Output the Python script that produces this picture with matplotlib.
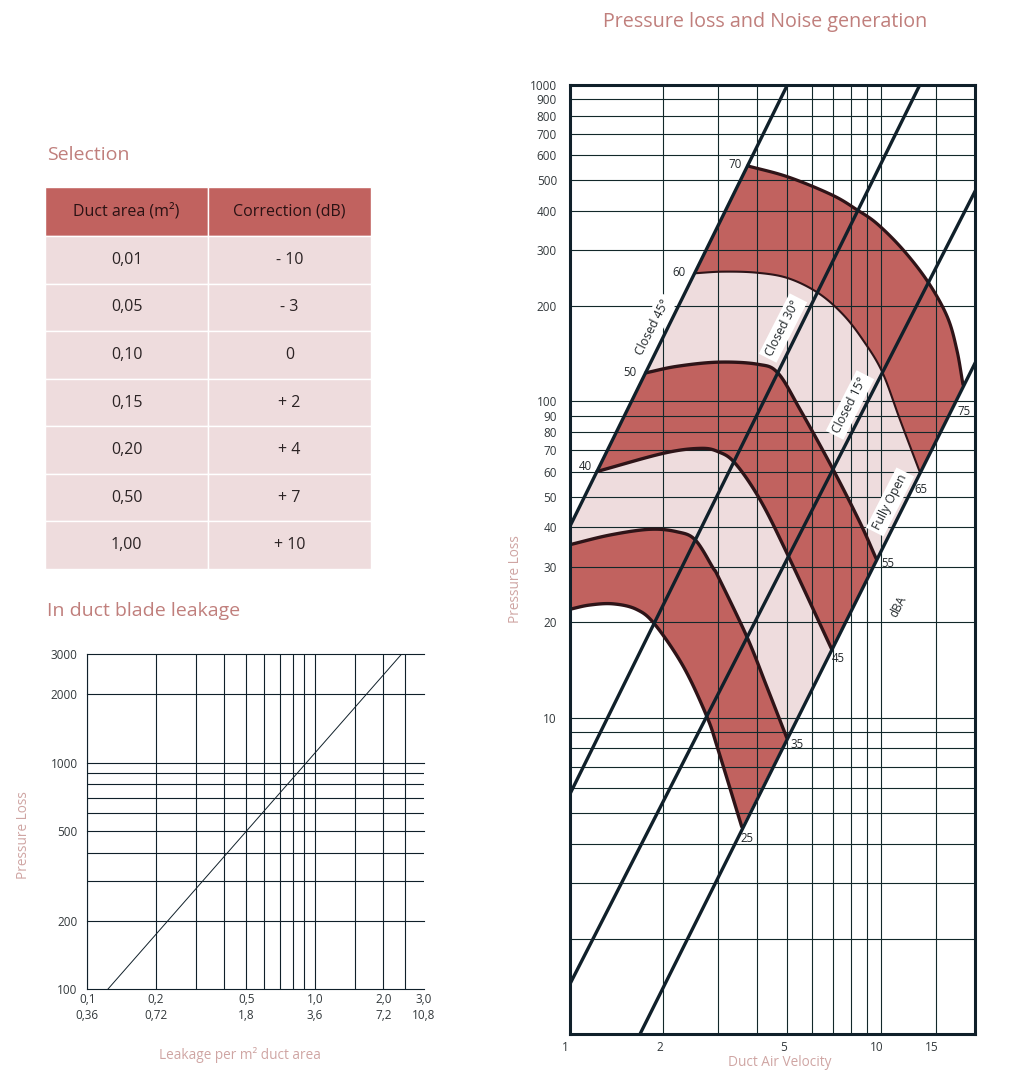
"""
Damper selection sheet: correction table, blade leakage and pressure loss / noise charts
"""
import numpy as np
import matplotlib
matplotlib.use("Agg")
import matplotlib.pyplot as plt
from matplotlib.transforms import ScaledTranslation
from matplotlib.ticker import FixedLocator, NullFormatter

W, H = 1022, 1087
plt.rcParams["font.family"] = ["Open Sans", "DejaVu Sans"]

ROSE  = "#C07F7C"
PALE  = "#CFA5A3"
DARK  = "#C1625F"
LIGHT = "#EEDCDD"
INK   = "#10202A"
LABEL = "#33393C"

# ── TABLE ──
table_cols = ["Duct area (m²)", "Correction (dB)"]
duct_area  = ["0,01", "0,05", "0,10", "0,15", "0,20", "0,50", "1,00"]
correction = ["- 10", "- 3", "0", "+ 2", "+ 4", "+ 7", "+ 10"]

# ── LEAKAGE CHART ──
leak_x_major = [0.1, 0.2, 0.5, 1.0, 2.0, 3.0]
leak_x_minor = [0.3, 0.4, 0.6, 0.7, 0.8, 0.9, 1.5, 2.5]
leak_x_labels = ["0,1\n0,36", "0,2\n0,72", "0,5\n1,8", "1,0\n3,6", "2,0\n7,2", "3,0\n10,8"]
leak_y_major = [100, 200, 500, 1000, 2000, 3000]
leak_y_minor = [300, 400, 600, 700, 800, 900]
leak_line_x = [0.123, 2.40]
leak_line_y = [100, 3000]

# ── PRESSURE LOSS CHART ──
vel_major = [1, 2, 5, 10, 15]
vel_minor = [3, 4, 6, 7, 8, 9]
pres_major = [10, 20, 30, 40, 50, 60, 70, 80, 90, 100, 200, 300, 400, 500, 600, 700, 800, 900, 1000]
pres_minor = [2, 3, 4, 5, 6, 7, 8, 9]

closed45_v, closed45_p = [1, 5], [40, 1000]
closed30_v, closed30_p = [1, 13.3], [5.7, 1000]
closed15_v, closed15_p = [1, 20], [1.43, 461]
open_v, open_p = [1.684, 20], [1, 132]

db25_v = [1.0, 1.16, 1.38, 1.64, 1.88, 2.32, 2.76, 3.0, 3.57]
db25_p = [22, 22.7, 22.9, 22, 19.7, 14.5, 10.07, 7.9, 4.52]
db35_v = [1.0, 1.35, 1.81, 2.21, 2.53, 2.89, 3.0, 3.71, 4.30, 4.98]
db35_p = [35.2, 37.8, 39.4, 38.7, 36.5, 29.7, 27.9, 18.0, 12.5, 8.63]
db45_v = [1.225, 2.0, 2.62, 3.0, 3.40, 4.09, 5.03, 6.95]
db45_p = [60, 68.5, 71, 69.3, 63.7, 48.8, 32.5, 16.4]
db55_v = [1.754, 2.21, 3.0, 4.01, 4.66, 5.5, 6.98, 8.56, 9.64]
db55_p = [123, 129, 133, 131, 123, 94, 61.4, 41.3, 31.8]
db65_v = [2.52, 3.11, 4.0, 5.03, 6.28, 7.55, 8.75, 10.07, 11.5, 13.3]
db65_p = [254, 257, 255, 245, 220, 188, 156, 124, 87.3, 59.8]
db75_v = [3.73, 5.03, 6.96, 8.37, 9.71, 11.77, 14.15, 16.3, 17.5, 18.3]
db75_p = [555, 512, 449, 403, 364, 301, 238, 185, 145, 113]


def smooth(v, p, steps=12):
    # Catmull-Rom in log space, only so the drawn curve has no corners
    pts = np.log10(np.column_stack([v, p]))
    pts = np.vstack([2*pts[0]-pts[1], pts, 2*pts[-1]-pts[-2]])
    out = []
    for i in range(1, len(pts)-2):
        p0, p1, p2, p3 = pts[i-1], pts[i], pts[i+1], pts[i+2]
        for t in np.linspace(0, 1, steps, endpoint=False):
            out.append(0.5*(2*p1 + (p2-p0)*t + (2*p0-5*p1+4*p2-p3)*t**2 + (3*p1-p0-3*p2+p3)*t**3))
    out.append(pts[-2])
    return 10**np.array(out)


def axes_px(left, top, right, bottom):
    return fig.add_axes([left/W, 1-bottom/H, (right-left)/W, (bottom-top)/H])


def text_px(x, y, s, **kw):
    kw.setdefault("ha", "center")
    kw.setdefault("va", "center")
    return fig.text(x/W, 1-y/H, s, **kw)


fig = plt.figure(figsize=(W/100, H/100), dpi=100, facecolor="white")

# ── titles ──
text_px(765, 22, "Pressure loss and Noise generation", color=ROSE, fontsize=14.2)
text_px(47, 155, "Selection", color=ROSE, fontsize=14, ha="left")
text_px(47, 611, "In duct blade leakage", color=ROSE, fontsize=14, ha="left")

# ── table ──
ax_t = axes_px(45, 187, 370.5, 569)
ax_t.axis("off")
rows = [[a, c] for a, c in zip(duct_area, correction)]
tbl = ax_t.table(cellText=rows, colLabels=table_cols, bbox=[0, 0, 1, 1], cellLoc="center",
                 colWidths=[163, 162])
tbl.auto_set_font_size(False)
tbl.set_fontsize(11.5)
for (r, c), cell in tbl.get_celld().items():
    cell.set_edgecolor("white")
    cell.set_linewidth(1.0)
    cell.set_height(49 if r == 0 else 47.4)
    cell.set_facecolor(DARK if r == 0 else LIGHT)
    cell.get_text().set_color("#2A1214" if r == 0 else "#2B2324")

# ── leakage chart ──
ax_l = axes_px(87.3, 654.3, 423.5, 989.3)
ax_l.set_xscale("log"); ax_l.set_yscale("log")
ax_l.set_xlim(0.1, 3.0); ax_l.set_ylim(100, 3000)
ax_l.xaxis.set_major_locator(FixedLocator(leak_x_major))
ax_l.xaxis.set_minor_locator(FixedLocator(leak_x_minor))
ax_l.yaxis.set_major_locator(FixedLocator(leak_y_major))
ax_l.yaxis.set_minor_locator(FixedLocator(leak_y_minor))
ax_l.xaxis.set_minor_formatter(NullFormatter())
ax_l.yaxis.set_minor_formatter(NullFormatter())
ax_l.set_xticklabels(leak_x_labels, linespacing=1.25)
ax_l.set_yticklabels([str(v) for v in leak_y_major])
ax_l.tick_params(which="both", length=0, labelsize=8.5, labelcolor=LABEL)
ax_l.tick_params(axis="x", pad=3)
ax_l.tick_params(axis="y", pad=7)
ax_l.grid(which="both", color=INK, lw=0.8)
ax_l.set_axisbelow(False)
for sp in ax_l.spines.values():
    sp.set_visible(False)
ax_l.spines["left"].set_visible(True)
ax_l.spines["left"].set_linewidth(0.8)
ax_l.spines["left"].set_color(INK)
for gl in ax_l.get_ygridlines():
    gl.set_clip_on(False)
ax_l.xaxis.get_major_ticks()[-1].gridline.set_visible(False)
ax_l.plot(leak_line_x, leak_line_y, color=INK, lw=0.7)
text_px(240, 1055, "Leakage per m² duct area", color=PALE, fontsize=9.8)
text_px(24, 835, "Pressure Loss", color=PALE, fontsize=9.8, rotation=90)

# ── pressure loss chart ──
ax = axes_px(569.5, 85, 975, 1034)
ax.set_xscale("log"); ax.set_yscale("log")
ax.set_xlim(1, 20); ax.set_ylim(1, 1000)
ax.xaxis.set_major_locator(FixedLocator(vel_major))
ax.xaxis.set_minor_locator(FixedLocator(vel_minor))
ax.yaxis.set_major_locator(FixedLocator(pres_major))
ax.yaxis.set_minor_locator(FixedLocator(pres_minor))
ax.xaxis.set_minor_formatter(NullFormatter())
ax.yaxis.set_minor_formatter(NullFormatter())
ax.set_xticklabels([str(v) for v in vel_major])
ax.set_yticklabels([str(v) for v in pres_major])
ax.tick_params(which="both", length=0, labelsize=8.5, labelcolor=LABEL)
ax.tick_params(axis="x", pad=5)
ax.tick_params(axis="y", pad=9)
ax.grid(which="both", color="#12282A", lw=0.8)
ax.set_axisbelow(False)
for sp in ax.spines.values():
    sp.set_linewidth(2.2)
    sp.set_color(INK)
    sp.set_zorder(6)
for lab in ax.get_xticklabels():
    lab.set_transform(lab.get_transform() + ScaledTranslation(-4/100, 0, fig.dpi_scale_trans))

curves = [smooth(db25_v, db25_p), smooth(db35_v, db35_p), smooth(db45_v, db45_p),
          smooth(db55_v, db55_p), smooth(db65_v, db65_p), smooth(db75_v, db75_p)]
band_colors = [DARK, LIGHT, DARK, LIGHT, DARK]
for i, col in enumerate(band_colors):
    poly = np.vstack([curves[i], curves[i+1][::-1]])
    if i == 1:
        poly = np.vstack([poly, [[closed45_v[0], closed45_p[0]]]])
    ax.fill(poly[:, 0], poly[:, 1], color=col, lw=0, zorder=1)

curve_widths = [2.4, 2.4, 2.4, 2.4, 1.5, 2.3]
for c, w in zip(curves, curve_widths):
    ax.plot(c[:, 0], c[:, 1], color="#2E1418", lw=w, zorder=3, solid_capstyle="round")

for vv, pp in [(closed45_v, closed45_p), (closed30_v, closed30_p), (closed15_v, closed15_p), (open_v, open_p)]:
    ax.plot(vv, pp, color=INK, lw=2.4, zorder=4)

for x, y, s in [(653, 327, "Closed 45°"), (783, 328, "Closed 30°"), (850, 405, "Closed 15°"), (890, 502, "Fully Open")]:
    text_px(x, y, s, color="#22282B", fontsize=8.8, rotation=63, rotation_mode="anchor", zorder=3,
            bbox=dict(fc="white", ec="none", pad=2.5))
text_px(898, 607, "dBA", color="#22282B", fontsize=8.5, rotation=63, rotation_mode="anchor")

for x, y, s in [(735, 165, "70"), (679, 273, "60"), (630, 372, "50"), (585, 467, "40"),
                (964, 411, "75"), (921, 489, "65"), (888, 563, "55"), (838, 659, "45"),
                (797, 744, "35"), (747, 839, "25")]:
    text_px(x, y, s, color="#22282B", fontsize=8.3)

text_px(780, 1063, "Duct Air Velocity", color=PALE, fontsize=9.8)
text_px(515, 579, "Pressure Loss", color=PALE, fontsize=9.8, rotation=90)

fig.savefig("out.png", dpi=100, facecolor="white")
